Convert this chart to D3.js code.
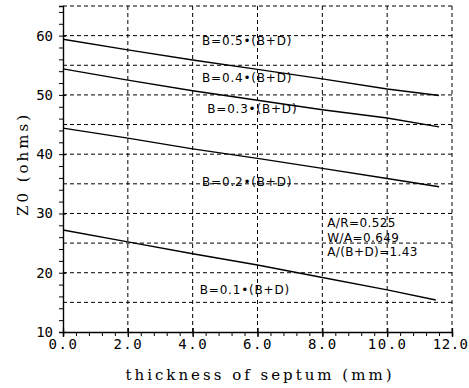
<!DOCTYPE html>
<html>
<head>
<meta charset="utf-8">
<script src="https://cdn.jsdelivr.net/npm/d3@7"></script>
<style>
  body { margin: 0; background: #fff; }
</style>
</head>
<body>
<div id="chart"></div>
<script>
// data
var thickness = [0, 2, 4, 6, 8, 10, 11.6];
var z05 = [59.4, 57.6, 55.9, 54.3, 52.7, 51.0, 49.9];
var z04 = [54.4, 52.5, 50.7, 49.1, 47.5, 46.1, 44.6];
var z02 = [44.4, 42.7, 40.9, 39.3, 37.6, 35.9, 34.5];
var thickness01 = [0, 2, 4, 6, 8, 10, 11.5];
var z01 = [27.2, 25.2, 23.2, 21.3, 19.2, 17.1, 15.4];

var xTicks = [0, 2, 4, 6, 8, 10, 12];
var yTicks = [10, 20, 30, 40, 50, 60];
var curveLabels = ["B=0.5\u2022(B+D)", "B=0.4\u2022(B+D)", "B=0.3\u2022(B+D)", "B=0.2\u2022(B+D)", "B=0.1\u2022(B+D)"];
var paramLabels = ["A/R=0.525", "W/A=0.649", "A/(B+D)=1.43"];

// set the dimensions and margins of the graph
var margin = {top: 6, right: 17, bottom: 56, left: 63},
    width = 469 - margin.left - margin.right,
    height = 388 - margin.top - margin.bottom;

var svg = d3.select("#chart")
  .append("svg")
    .attr("width", 469)
    .attr("height", 388)
  .append("g")
    .attr("transform", "translate(" + margin.left + "," + margin.top + ")");

var x = d3.scaleLinear().domain([0, 12]).range([0, width]);
var y = d3.scaleLinear().domain([10, 65]).range([height, 0]);

// dashed grid
svg.append("g").selectAll("line")
  .data(d3.range(2, 13, 2))
  .enter().append("line")
    .attr("x1", function(d) { return x(d); })
    .attr("x2", function(d) { return x(d); })
    .attr("y1", 0).attr("y2", height)
    .attr("stroke", "#000").attr("stroke-width", 1)
    .attr("stroke-dasharray", "4,3");

svg.append("g").selectAll("line")
  .data(d3.range(15, 66, 5))
  .enter().append("line")
    .attr("x1", 0).attr("x2", width)
    .attr("y1", function(d) { return y(d); })
    .attr("y2", function(d) { return y(d); })
    .attr("stroke", "#000").attr("stroke-width", 1)
    .attr("stroke-dasharray", "4,3");

// X axis with minor ticks
svg.append("g")
  .attr("transform", "translate(0," + height + ")")
  .call(d3.axisBottom(x).tickValues(d3.range(0, 12.01, 0.4)).tickSize(4).tickFormat(""))
  .call(function(g) { g.select(".domain").attr("stroke-width", 1.4); });

var xAxis = svg.append("g")
  .attr("transform", "translate(0," + height + ")")
  .call(d3.axisBottom(x).tickValues(xTicks).tickSize(5).tickSizeOuter(0)
    .tickFormat(function(d) { return d3.format(".1f")(d); }));
xAxis.select(".domain").remove();
xAxis.selectAll(".tick line").attr("y1", -4).attr("stroke-width", 1.3);
xAxis.selectAll("text")
  .attr("y", 7).attr("dy", "0.71em")
  .style("font-family", "DejaVu Sans Mono")
  .style("font-size", "14px")
  .style("letter-spacing", "1.5px")
  .attr("fill", "#000");
// last label pushed against the right edge, as in the original
xAxis.selectAll("text").filter(function(d) { return d === 12; })
  .attr("text-anchor", "end")
  .style("letter-spacing", "0.5px")
  .attr("x", 16);

// Y axis with minor ticks
svg.append("g")
  .call(d3.axisLeft(y).tickValues(d3.range(10, 65.01, 2)).tickSize(4).tickFormat(""))
  .call(function(g) { g.select(".domain").attr("stroke-width", 1.4); });

var yAxis = svg.append("g")
  .call(d3.axisLeft(y).tickValues(yTicks).tickSize(6).tickSizeOuter(0));
yAxis.select(".domain").remove();
yAxis.selectAll(".tick line").attr("x2", 3).attr("stroke-width", 1.3);
yAxis.selectAll("text")
  .attr("x", -10)
  .style("font-family", "DejaVu Sans Mono")
  .style("font-size", "14px")
  .attr("fill", "#000");

// the curves
var line = d3.line()
  .x(function(d) { return x(d[0]); })
  .y(function(d) { return y(d[1]); });

[[thickness, z05], [thickness, z04], [thickness, z02], [thickness01, z01]].forEach(function(s) {
  svg.append("path")
    .datum(d3.zip(s[0], s[1]))
    .attr("fill", "none")
    .attr("stroke", "#000")
    .attr("stroke-width", 1.4)
    .attr("d", line);
});

// curve labels
var labelPos = [[4.29, 58.4], [4.29, 52.2], [4.45, 47.0], [4.29, 34.6], [4.22, 16.4]];
svg.selectAll(".clabel")
  .data(curveLabels)
  .enter().append("text")
    .attr("x", function(d, i) { return x(labelPos[i][0]); })
    .attr("y", function(d, i) { return y(labelPos[i][1]); })
    .style("font-family", "DejaVu Sans")
    .style("font-size", "12px")
    .style("letter-spacing", "0.8px")
    .text(function(d) { return d; });

// parameter block
svg.selectAll(".plabel")
  .data(paramLabels)
  .enter().append("text")
    .attr("x", x(8.15))
    .attr("y", function(d, i) { return y(27.7) + i * 14.5; })
    .style("font-family", "DejaVu Sans")
    .style("font-size", "12px")
    .style("letter-spacing", "0.4px")
    .text(function(d) { return d; });

// X axis label
svg.append("text")
  .attr("text-anchor", "middle")
  .attr("x", 197)
  .attr("y", height + 48)
  .style("font-family", "DejaVu Serif")
  .style("font-size", "15px")
  .style("letter-spacing", "3px")
  .text("thickness of septum (mm)");

// Y axis label
svg.append("text")
  .attr("text-anchor", "middle")
  .attr("transform", "rotate(-90)")
  .attr("x", -158)
  .attr("y", -35)
  .style("font-family", "DejaVu Serif")
  .style("font-size", "15px")
  .style("letter-spacing", "3px")
  .text("Z0 (ohms)");
</script>
</body>
</html>
